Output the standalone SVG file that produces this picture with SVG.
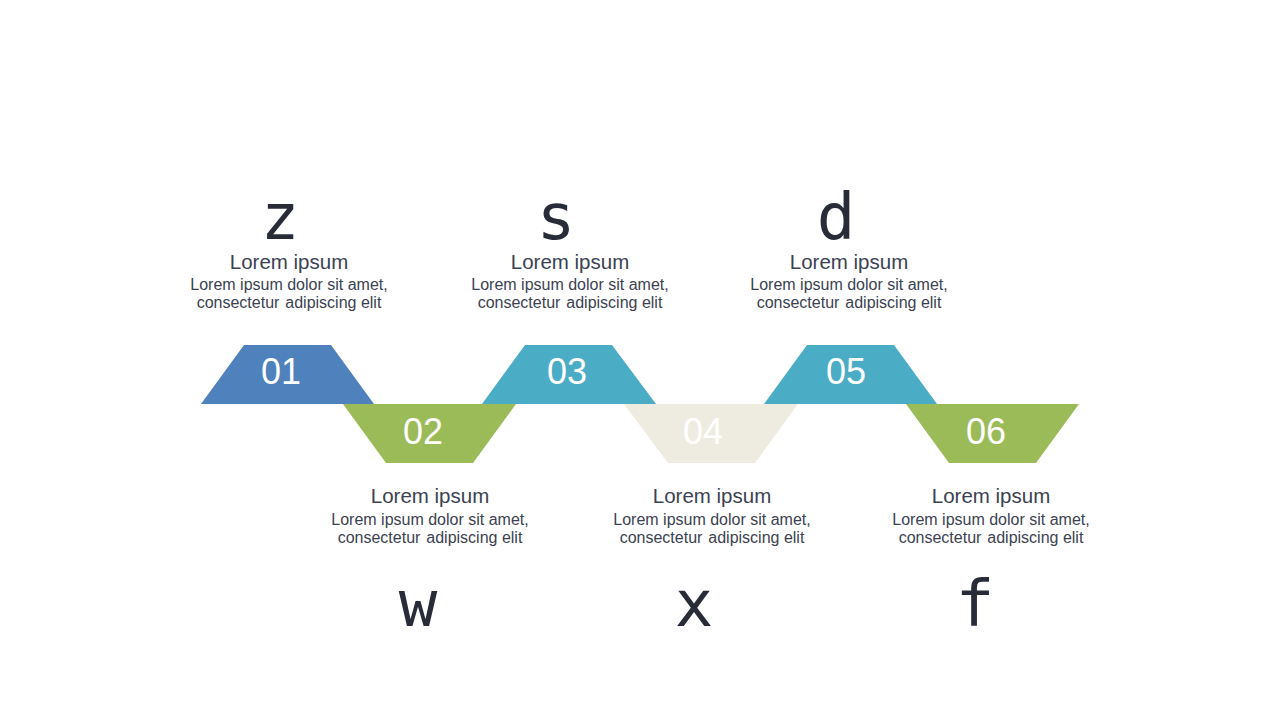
<svg xmlns="http://www.w3.org/2000/svg" width="1280" height="720" viewBox="0 0 1280 720">
<style>
.big{font-family:"DejaVu Sans Mono",monospace;font-size:64px;fill:#272c38;text-anchor:middle}
.num{font-family:"Liberation Sans",Arial,sans-serif;font-size:36px;fill:#ffffff;text-anchor:middle}
.ttl{font-family:"Liberation Sans",Arial,sans-serif;font-size:20.5px;fill:#3c4252;text-anchor:middle}
.body{font-family:"Liberation Sans",Arial,sans-serif;font-size:16px;fill:#3c4252;text-anchor:middle}
</style>
<rect width="1280" height="720" fill="#ffffff"/>
<g id="connectors"></g>
<g id="node01">
<polygon points="244,345 331,345 374,404 201,404" fill="#4F81BD"/>
<text class="num" x="281" y="384">01</text>
<text class="big" x="280" y="239">z</text>
<text class="ttl" x="289" y="269">Lorem ipsum</text>
<text class="body" x="289" y="290">Lorem ipsum dolor sit amet,</text>
<text class="body" x="289" y="308">consectetur <tspan dx="1.5">adipiscing elit</tspan></text>
</g>
<g id="node02">
<polygon points="343,404 516,404 473,463 386,463" fill="#9BBB59"/>
<text class="num" x="423" y="444">02</text>
<text class="ttl" x="430" y="503">Lorem ipsum</text>
<text class="body" x="430" y="525">Lorem ipsum dolor sit amet,</text>
<text class="body" x="430" y="543">consectetur <tspan dx="1.5">adipiscing elit</tspan></text>
<text class="big" x="418" y="626">w</text>
</g>
<g id="node03">
<polygon points="525,345 612,345 656,404 482,404" fill="#4BACC6"/>
<text class="num" x="567" y="384">03</text>
<text class="big" x="556" y="239">s</text>
<text class="ttl" x="570" y="269">Lorem ipsum</text>
<text class="body" x="570" y="290">Lorem ipsum dolor sit amet,</text>
<text class="body" x="570" y="308">consectetur <tspan dx="1.5">adipiscing elit</tspan></text>
</g>
<g id="node04">
<polygon points="624,404 798,404 755,463 668,463" fill="#EEECE1"/>
<text class="num" x="703" y="444">04</text>
<text class="ttl" x="712" y="503">Lorem ipsum</text>
<text class="body" x="712" y="525">Lorem ipsum dolor sit amet,</text>
<text class="body" x="712" y="543">consectetur <tspan dx="1.5">adipiscing elit</tspan></text>
<text class="big" x="694" y="626">x</text>
</g>
<g id="node05">
<polygon points="807,345 894,345 937,404 764,404" fill="#4BACC6"/>
<text class="num" x="846" y="384">05</text>
<text class="big" x="836" y="239">d</text>
<text class="ttl" x="849" y="269">Lorem ipsum</text>
<text class="body" x="849" y="290">Lorem ipsum dolor sit amet,</text>
<text class="body" x="849" y="308">consectetur <tspan dx="1.5">adipiscing elit</tspan></text>
</g>
<g id="node06">
<polygon points="906,404 1079,404 1036,463 949,463" fill="#9BBB59"/>
<text class="num" x="986" y="444">06</text>
<text class="ttl" x="991" y="503">Lorem ipsum</text>
<text class="body" x="991" y="525">Lorem ipsum dolor sit amet,</text>
<text class="body" x="991" y="543">consectetur <tspan dx="1.5">adipiscing elit</tspan></text>
<text class="big" x="975" y="626">f</text>
</g>
</svg>
